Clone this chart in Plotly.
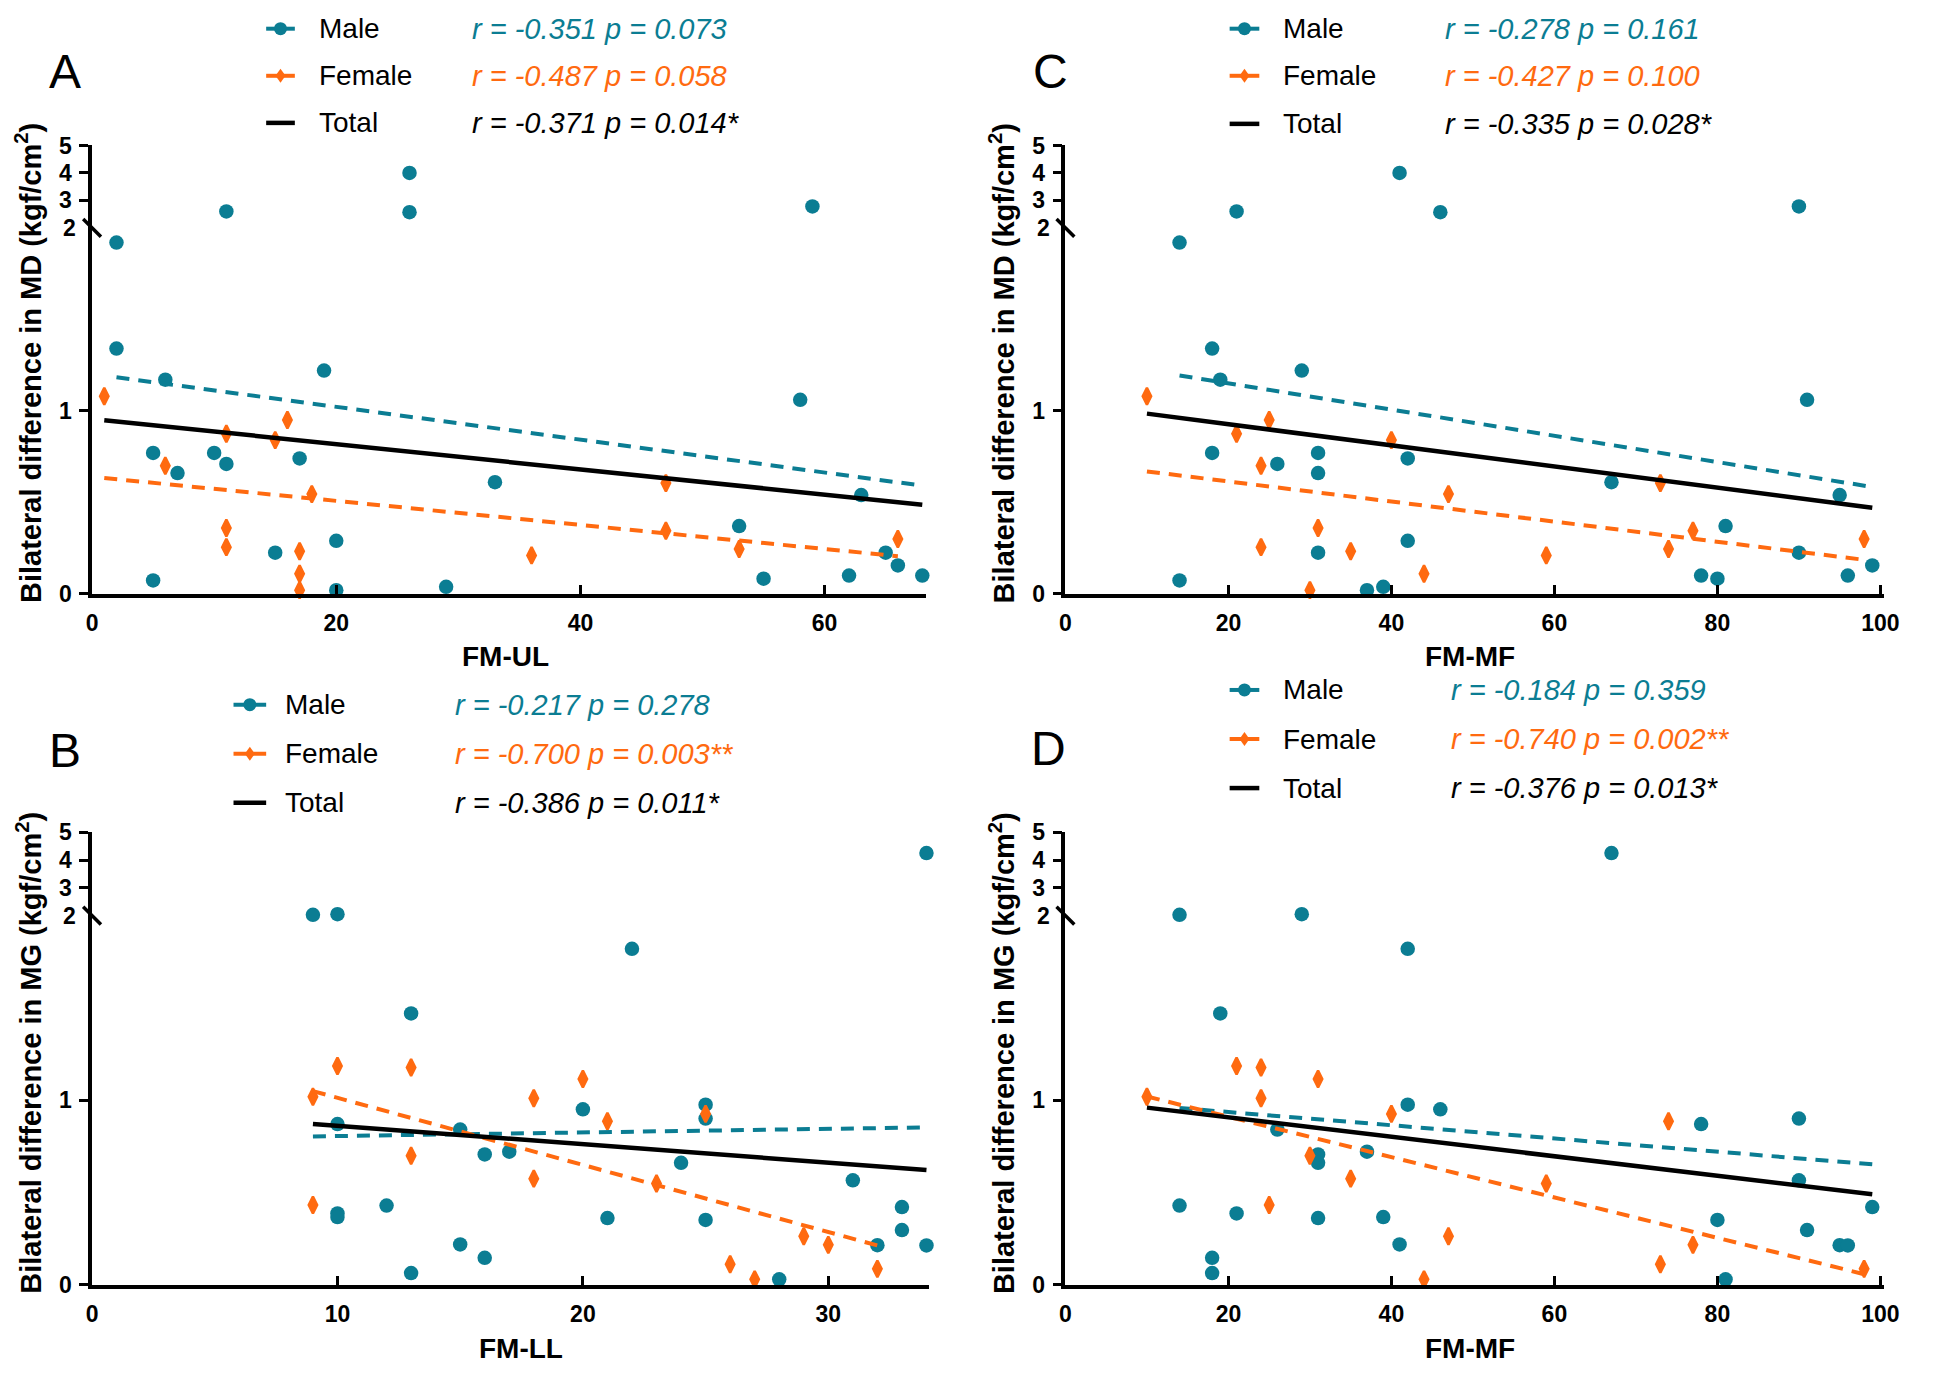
import numpy as np
import plotly.graph_objects as go

# ---------------- data ----------------
# Bilateral difference in MD (shared by panels A and C)
MD_male_y = [4.0, 2.6, 2.57, 2.78, 1.92, 1.34, 1.22, 1.17, 1.06, 0.77, 0.77, 0.71, 0.66, 0.74,
             0.61, 0.54, 0.37, 0.29, 0.225, 0.225, 0.155, 0.10, 0.10, 0.083, 0.073, 0.02, 0.038]
A_male_x = [26, 11, 26, 59, 2, 2, 19, 6, 58, 5, 10, 11, 7, 17, 33, 63, 53, 20, 15, 65, 66, 68, 62, 55, 5, 20, 29]
C_male_x = [41, 21, 46, 90, 14, 18, 29, 19, 91, 18, 31, 26, 31, 42, 67, 95, 81, 42, 31, 90, 99, 78, 96, 80, 14, 37, 39]

MD_female_y = [1.08, 0.95, 0.875, 0.84, 0.70, 0.545, 0.605, 0.36, 0.255, 0.233, 0.11, 0.02, 0.21, 0.345, 0.245, 0.30]
A_female_x = [1, 16, 11, 15, 6, 18, 47, 11, 11, 17, 17, 17, 36, 47, 53, 66]
C_female_x = [10, 25, 21, 40, 24, 47, 73, 31, 24, 35, 44, 30, 59, 77, 74, 98]

# Bilateral difference in MG (shared by panels B and D)
MG_male_y = [4.25, 2.05, 2.03, 1.82, 1.47, 0.975, 0.95, 0.9, 0.87, 0.84, 0.72, 0.705, 0.66, 0.565,
             0.428, 0.42, 0.385, 0.366, 0.36, 0.35, 0.295, 0.217, 0.213, 0.212, 0.145, 0.062, 0.028]
B_male_x = [34, 10, 9, 22, 13, 25, 20, 25, 10, 15, 17, 16, 24, 31, 12, 33, 10, 10, 21, 25, 33, 15, 32, 34, 16, 13, 28]
D_male_x = [67, 29, 14, 42, 19, 42, 46, 90, 78, 26, 37, 31, 31, 90, 14, 99, 21, 39, 31, 80, 91, 41, 95, 96, 18, 18, 81]

MG_female_y = [1.185, 1.177, 1.114, 1.018, 1.01, 0.925, 0.885, 0.698, 0.574, 0.548, 0.431, 0.262, 0.215, 0.11, 0.085, 0.028]
B_female_x = [10, 13, 20, 9, 18, 25, 21, 13, 18, 23, 9, 29, 30, 26, 32, 27]
D_female_x = [21, 24, 31, 10, 24, 40, 74, 30, 35, 59, 25, 47, 77, 73, 98, 44]

group_names = ["Male", "Female", "Total"]
A_stats = ["r = -0.351 p = 0.073", "r = -0.487 p = 0.058", "r = -0.371 p = 0.014*"]
B_stats = ["r = -0.217 p = 0.278", "r = -0.700 p = 0.003**", "r = -0.386 p = 0.011*"]
C_stats = ["r = -0.278 p = 0.161", "r = -0.427 p = 0.100", "r = -0.335 p = 0.028*"]
D_stats = ["r = -0.184 p = 0.359", "r = -0.740 p = 0.002**", "r = -0.376 p = 0.013*"]

lower_ticks = [0, 1]
upper_ticks = [3, 4, 5]
break_value = 2
top_value = 5

# ---------------- style / layout ----------------
W, H = 1944, 1376
TEAL = "#0b7d93"
ORANGE = "#ff6a10"
BLACK = "#000000"
FONT = "Arial, Liberation Sans, sans-serif"
COLORS = [TEAL, ORANGE, BLACK]

panels = [
    dict(letter="A", mx=A_male_x, my=MD_male_y, fx=A_female_x, fy=MD_female_y, stats=A_stats,
         xtitle="FM-UL", ytitle="Bilateral difference in MD (kgf/cm<sup>2</sup>)",
         xr=[0, 68.3], xticks=[0, 20, 40, 60], px=(87, 930), py=(592, 219, 135),
         letter_pos=(60, 60), ytitle_pos=(23, 357), xtitle_pos=(505, 656),
         leg_rows=[16, 64, 112], leg_line=(263, 292), leg_text=314, leg_stat=469),
    dict(letter="C", mx=C_male_x, my=MD_male_y, fx=C_female_x, fy=MD_female_y, stats=C_stats,
         xtitle="FM-MF", ytitle="Bilateral difference in MD (kgf/cm<sup>2</sup>)",
         xr=[0, 100.5], xticks=[0, 20, 40, 60, 80, 100], px=(1071, 1899), py=(592, 219, 135),
         letter_pos=(1056, 60), ytitle_pos=(1007, 357), xtitle_pos=(1480, 656),
         leg_rows=[16, 64, 113], leg_line=(1237, 1267), leg_text=1289, leg_stat=1453),
    dict(letter="B", mx=B_male_x, my=MG_male_y, fx=B_female_x, fy=MG_female_y, stats=B_stats,
         xtitle="FM-LL", ytitle="Bilateral difference in MG (kgf/cm<sup>2</sup>)",
         xr=[0, 34.1], xticks=[0, 10, 20, 30], px=(87, 933), py=(1296, 920, 835),
         letter_pos=(60, 752), ytitle_pos=(23, 1060), xtitle_pos=(521, 1361),
         leg_rows=[705, 755, 805], leg_line=(230, 263), leg_text=280, leg_stat=452),
    dict(letter="D", mx=D_male_x, my=MG_male_y, fx=D_female_x, fy=MG_female_y, stats=D_stats,
         xtitle="FM-MF", ytitle="Bilateral difference in MG (kgf/cm<sup>2</sup>)",
         xr=[0, 100.5], xticks=[0, 20, 40, 60, 80, 100], px=(1071, 1899), py=(1296, 920, 835),
         letter_pos=(1054, 750), ytitle_pos=(1007, 1060), xtitle_pos=(1480, 1361),
         leg_rows=[690, 740, 790], leg_line=(1237, 1267), leg_text=1289, leg_stat=1459),
]


def fx_(px):
    return px / W


def fy_(py):
    return 1 - py / H


fig = go.Figure()
layout = dict(width=W, height=H, margin=dict(l=0, r=0, t=0, b=0),
              paper_bgcolor="white", plot_bgcolor="white", showlegend=False,
              font=dict(family=FONT, color=BLACK))
shapes, annotations = [], []

AX_W = 3.5
TICK_SIZE = 23
tickfont = dict(family=FONT, size=TICK_SIZE, color=BLACK, weight="bold")

for i, p in enumerate(panels):
    xi = i + 1
    yl = 2 * i + 1
    yu = 2 * i + 2
    xname = "x" if xi == 1 else f"x{xi}"
    ylname = "y" if yl == 1 else f"y{yl}"
    yuname = f"y{yu}"
    base, brk, top = p["py"]

    layout["xaxis" if xi == 1 else f"xaxis{xi}"] = dict(
        domain=[fx_(p["px"][0]), fx_(p["px"][1])], range=p["xr"], anchor=ylname,
        showline=True, linecolor=BLACK, linewidth=AX_W, mirror=False, showgrid=False, zeroline=False,
        ticks="inside", ticklen=9, tickwidth=3, tickcolor=BLACK, tickvals=p["xticks"],
        tickfont=tickfont, ticklabelstandoff=6, fixedrange=True)
    layout["yaxis" if yl == 1 else f"yaxis{yl}"] = dict(
        domain=[fy_(base), fy_(brk)], range=[0, break_value], anchor=xname,
        showline=True, linecolor=BLACK, linewidth=AX_W, showgrid=False, zeroline=False,
        ticks="outside", ticklen=9, tickwidth=3, tickcolor=BLACK, tickvals=lower_ticks,
        tickfont=tickfont, ticklabelstandoff=3, fixedrange=True)
    layout[f"yaxis{yu}"] = dict(
        domain=[fy_(brk), fy_(top)], range=[break_value, top_value], anchor=xname,
        showline=True, linecolor=BLACK, linewidth=AX_W, showgrid=False, zeroline=False,
        ticks="outside", ticklen=9, tickwidth=3, tickcolor=BLACK, tickvals=upper_ticks,
        tickfont=tickfont, ticklabelstandoff=3, fixedrange=True)

    groups = [(np.array(p["mx"], float), np.array(p["my"], float), TEAL, "circle", 14.5, 0),
              (np.array(p["fx"], float), np.array(p["fy"], float), ORANGE, "diamond-tall", 12, 2.5)]

    # regression lines (least squares fit of each group and of all points)
    all_x = np.concatenate([g[0] for g in groups])
    all_y = np.concatenate([g[1] for g in groups])
    fits = [(groups[0][0], groups[0][1], TEAL, "13px,9px", 4),
            (groups[1][0], groups[1][1], ORANGE, "13px,9px", 4),
            (all_x, all_y, BLACK, "solid", 4.5)]

    # points
    for gx, gy, col, sym, sz, olw in groups:
        lo = gy <= break_value
        for mask, yname in ((lo, ylname), (~lo, yuname)):
            fig.add_trace(go.Scatter(x=gx[mask], y=gy[mask], mode="markers", xaxis=xname, yaxis=yname,
                                     marker=dict(color=col, symbol=sym, size=sz,
                                                 line=dict(width=olw, color=col)),
                                     cliponaxis=False, hoverinfo="x+y"))
    for gx, gy, col, dash, lw in fits:
        slope, intercept = np.polyfit(gx, gy, 1)
        xs = np.array([gx.min(), gx.max()])
        fig.add_trace(go.Scatter(x=xs, y=intercept + slope * xs, mode="lines", xaxis=xname, yaxis=ylname,
                                 line=dict(color=col, width=lw, dash=dash), cliponaxis=False,
                                 hoverinfo="skip"))

    ax = p["px"][0]
    # axis break mark
    shapes.append(dict(type="line", xref="paper", yref="paper",
                       x0=fx_(ax - 9), y0=fy_(brk - 9), x1=fx_(ax + 9), y1=fy_(brk + 9),
                       line=dict(color=BLACK, width=3.5)))
    annotations.append(dict(x=fx_(ax - 14), y=fy_(brk), xref="paper", yref="paper", text=str(break_value),
                            showarrow=False, xanchor="right", yanchor="middle",
                            font=dict(family=FONT, size=TICK_SIZE, color=BLACK, weight="bold")))

    # texts
    annotations.append(dict(x=fx_(p["letter_pos"][0]), y=fy_(p["letter_pos"][1]), xref="paper", yref="paper",
                            text=p["letter"], showarrow=False, xanchor="center", yanchor="middle",
                            font=dict(family=FONT, size=48, color=BLACK)))
    annotations.append(dict(x=fx_(p["ytitle_pos"][0]), y=fy_(p["ytitle_pos"][1]), xref="paper", yref="paper",
                            text=p["ytitle"], textangle=-90, showarrow=False, xanchor="center", yanchor="middle",
                            font=dict(family=FONT, size=29, color=BLACK, weight="bold")))
    annotations.append(dict(x=fx_(p["xtitle_pos"][0]), y=fy_(p["xtitle_pos"][1]), xref="paper", yref="paper",
                            text=p["xtitle"], showarrow=False, xanchor="center", yanchor="middle",
                            font=dict(family=FONT, size=28, color=BLACK, weight="bold")))

    # legend
    l0, l1 = p["leg_line"]
    cx = (l0 + l1) / 2
    for k, (name, col, stat) in enumerate(zip(group_names, COLORS, p["stats"])):
        ry = p["leg_rows"][k]
        shapes.append(dict(type="line", xref="paper", yref="paper", x0=fx_(l0), x1=fx_(l1),
                           y0=fy_(ry), y1=fy_(ry), line=dict(color=col, width=4.5 if k == 2 else 4)))
        if k == 0:
            shapes.append(dict(type="circle", xref="paper", yref="paper", xsizemode="pixel",
                               ysizemode="pixel", xanchor=fx_(cx), yanchor=fy_(ry),
                               x0=-6.5, x1=6.5, y0=-6.5, y1=6.5, fillcolor=col, line=dict(width=0)))
        elif k == 1:
            shapes.append(dict(type="path", xref="paper", yref="paper", xsizemode="pixel",
                               ysizemode="pixel", xanchor=fx_(cx), yanchor=fy_(ry),
                               path="M0,7 L5,0 L0,-7 L-5,0 Z", fillcolor=col, line=dict(width=0)))
        annotations.append(dict(x=fx_(p["leg_text"]), y=fy_(ry), xref="paper", yref="paper", text=name,
                                showarrow=False, xanchor="left", yanchor="middle",
                                font=dict(family=FONT, size=28, color=BLACK)))
        annotations.append(dict(x=fx_(p["leg_stat"]), y=fy_(ry), xref="paper", yref="paper",
                                text=f"<i>{stat}</i>", showarrow=False, xanchor="left", yanchor="middle",
                                font=dict(family=FONT, size=29, color=col)))

layout["shapes"] = shapes
layout["annotations"] = annotations
fig.update_layout(**layout)
fig.write_html("out.html",
               config={"displayModeBar": False, "staticPlot": False},
               post_script="document.body.style.margin='0px';document.body.style.padding='0px';"
                           "document.body.style.overflow='hidden';")
